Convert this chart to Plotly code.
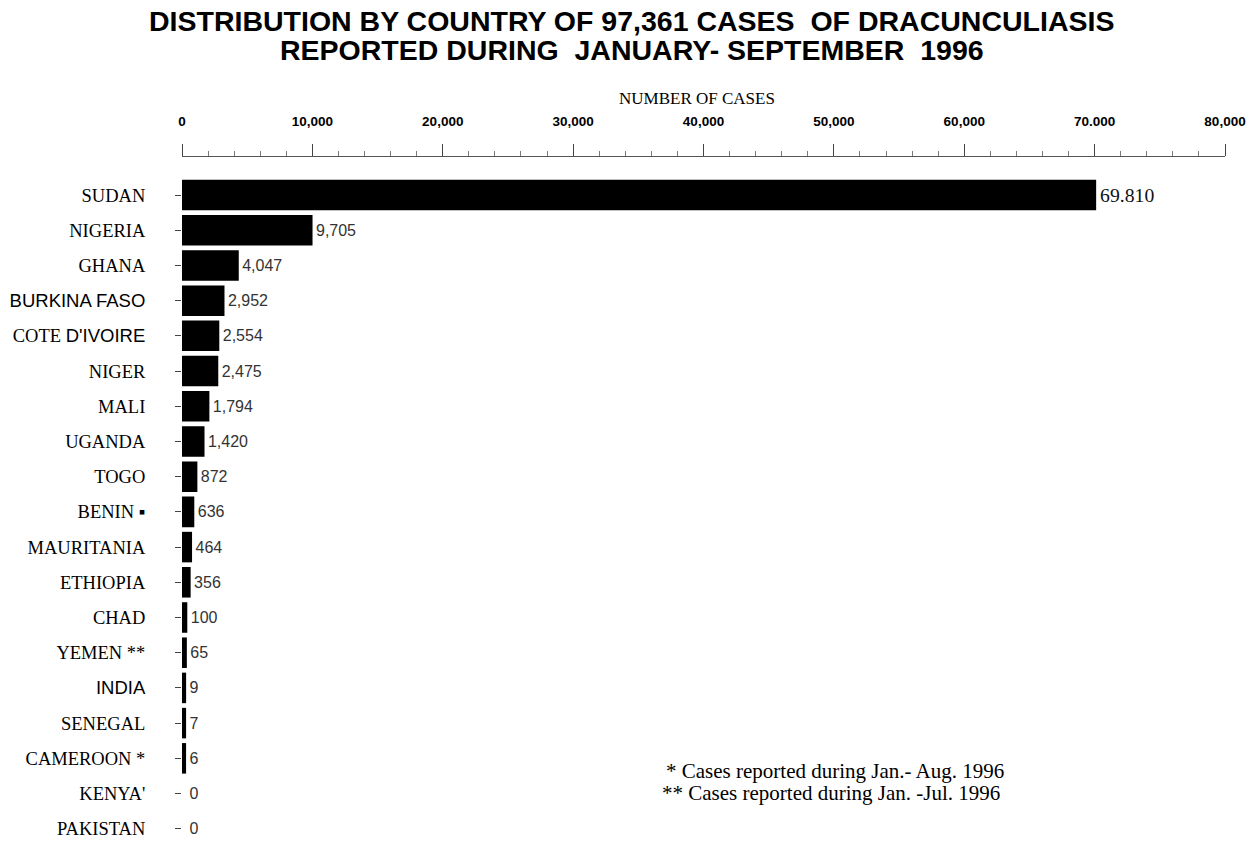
import plotly.graph_objects as go

countries = ["SUDAN", "NIGERIA", "GHANA", "BURKINA FASO", "COTE D'IVOIRE", "NIGER",
             "MALI", "UGANDA", "TOGO", "BENIN", "MAURITANIA", "ETHIOPIA", "CHAD",
             "YEMEN", "INDIA", "SENEGAL", "CAMEROON", "KENYA", "PAKISTAN"]
SANS_SPAN = '<span style="font-family:Liberation Sans, Arial, sans-serif">'
country_labels = ["SUDAN", "NIGERIA", "GHANA",
                  SANS_SPAN + "BURKINA FASO</span>",
                  "COTE " + SANS_SPAN + "D'IVOIRE</span>",
                  "NIGER", "MALI", "UGANDA", "TOGO", "BENIN \u25aa", "MAURITANIA",
                  "ETHIOPIA", "CHAD", "YEMEN **", SANS_SPAN + "INDIA</span>",
                  "SENEGAL", "CAMEROON *", "KENYA'", "PAKISTAN"]
cases = [69810, 9705, 4047, 2952, 2554, 2475, 1794, 1420, 872, 636, 464, 356, 100,
         65, 9, 7, 6, 0, 0]
value_labels = ["69.810", "9,705", "4,047", "2,952", "2,554", "2,475", "1,794", "1,420",
                "872", "636", "464", "356", "100", "65", "9", "7", "6", "0", "0"]
tick_vals = [0, 10000, 20000, 30000, 40000, 50000, 60000, 70000, 80000]
tick_text = ["0", "10,000", "20,000", "30,000", "40,000", "50,000", "60,000", "70.000", "80,000"]

serif = "Liberation Serif, Times New Roman, serif"
sans = "Liberation Sans, Arial, sans-serif"

NB = "\u00a0"
bar_text = [NB + t for t in value_labels]
text_fam = [serif] + [sans] * (len(cases) - 1)
text_size = [21] + [16] * (len(cases) - 1)
text_col = ["#111"] + ["#333333"] * (len(cases) - 1)
line_w = [8 if v > 0 else 0 for v in cases]

W, H = 1250, 842
L, R, T, B = 182, 25, 157, 2
pw, ph = W - L - R, H - T - B


def px(xp):
    return (xp - L) / pw


def py(yp):
    return (H - B - yp) / ph


fig = go.Figure()
fig.add_trace(go.Bar(
    y=countries, x=cases, orientation="h",
    marker=dict(color="black", line=dict(color="black", width=line_w)),
    text=bar_text, textposition="outside",
    textfont=dict(family=text_fam, size=text_size, color=text_col),
    cliponaxis=False,
))

fig.update_layout(
    width=W, height=H,
    margin=dict(l=L, r=R, t=T, b=B, autoexpand=False),
    paper_bgcolor="white", plot_bgcolor="white",
    bargap=0.36,
    showlegend=False,
    xaxis=dict(
        side="top", range=[0, 80000], tickvals=tick_vals, ticktext=tick_text,
        ticks="outside", ticklen=12, tickcolor="#444", tickwidth=1,
        minor=dict(dtick=2000, ticks="outside", ticklen=5, tickcolor="#777"),
        showline=True, linecolor="#555", linewidth=1,
        showgrid=False, zeroline=False, automargin=False,
        tickfont=dict(family=sans, size=13.5, color="black", weight="bold"),
        ticklabelstandoff=13, ticklabeloverflow="allow",
    ),
    yaxis=dict(
        type="category", range=[18.32, -1.08],
        tickvals=countries, ticktext=country_labels,
        ticks="outside", ticklen=6, tickcolor="#444",
        showline=False, showgrid=False, zeroline=False, automargin=False,
        tickfont=dict(family=serif, size=18.5, color="black"),
        ticklabelstandoff=26,
    ),
    annotations=[
        dict(text="DISTRIBUTION BY COUNTRY OF 97,361 CASES  OF DRACUNCULIASIS",
             xref="paper", yref="paper", x=px(631), y=py(21),
             xanchor="center", yanchor="middle", showarrow=False,
             font=dict(family=sans, size=28.5, color="black", weight="bold")),
        dict(text="REPORTED DURING  JANUARY- SEPTEMBER  1996",
             xref="paper", yref="paper", x=px(632), y=py(50),
             xanchor="center", yanchor="middle", showarrow=False,
             font=dict(family=sans, size=28.5, color="black", weight="bold")),
        dict(text="NUMBER OF CASES", xref="paper", yref="paper",
             x=px(697), y=py(98), xanchor="center", yanchor="middle",
             showarrow=False, font=dict(family=serif, size=17, color="black")),
        dict(text="* Cases reported during Jan.- Aug. 1996",
             xref="paper", yref="paper", x=px(664), y=py(771),
             xanchor="left", yanchor="middle", align="left", showarrow=False,
             font=dict(family=serif, size=21, color="black")),
        dict(text="** Cases reported during Jan. -Jul. 1996",
             xref="paper", yref="paper", x=px(660), y=py(793),
             xanchor="left", yanchor="middle", align="left", showarrow=False,
             font=dict(family=serif, size=21, color="black")),
    ],
)

fig.write_html("out.html",
               config={"displayModeBar": False},
               post_script="document.body.style.margin='0';document.body.style.overflow='hidden';")
